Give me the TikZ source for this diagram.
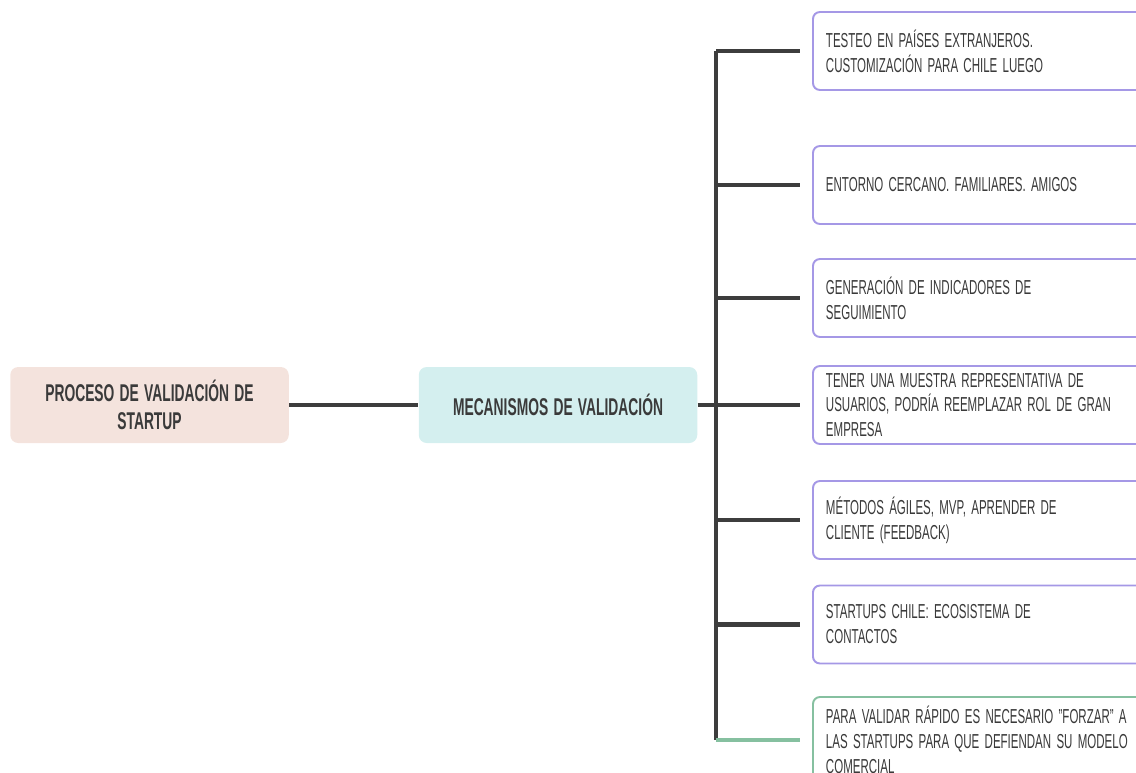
\documentclass[tikz,border=0pt]{standalone}
\usepackage{fontspec}
\setmainfont[FakeStretch=0.57,BoldFeatures={FakeStretch=0.57}]{Liberation Sans}
\usetikzlibrary{positioning}
\definecolor{rootfill}{HTML}{F4E3DD}
\definecolor{mechfill}{HTML}{D4EFEF}
\definecolor{leafline}{HTML}{A598E6}
\definecolor{lastline}{HTML}{86C0A0}
\definecolor{branch}{HTML}{3D3D3D}
\definecolor{inktext}{HTML}{3A3A3A}
\newcommand{\topicfont}{\fontsize{13.8}{15.9}\selectfont\bfseries\spaceskip=3pt plus 1pt\relax}
\newcommand{\leaffont}{\fontsize{11.5}{14.2}\selectfont\spaceskip=3pt plus 1pt\relax}
\begin{document}
\begin{tikzpicture}[
	topic/.style={rounded corners=0.16cm, minimum width=5.57cm, minimum height=1.52cm, align=center, text=inktext, font=\topicfont},
	leaf/.style={draw=leafline, line width=1.1pt, fill=white, rounded corners=0.14cm, anchor=west, text width=6.24cm, inner xsep=0.26cm, minimum height=1.56cm, align=flush left, text=inktext, font=\leaffont},
	link/.style={draw=branch, line width=2.3pt}
	]
	\clip (0,0) rectangle (22.72,-15.44);
	
	\node[topic, fill=rootfill] (root) at (2.99,-8.10) {PROCESO DE VALIDACIÓN DE\\STARTUP};
	\node[topic, fill=mechfill] (mech) at (11.16,-8.10) {MECANISMOS DE VALIDACIÓN};
	
	\node[leaf] (leaf1) at (16.24,-1.02) {TESTEO EN PAÍSES EXTRANJEROS.\\CUSTOMIZACIÓN PARA CHILE LUEGO};
	\node[leaf] (leaf2) at (16.24,-3.70) {ENTORNO CERCANO. FAMILIARES. AMIGOS};
	\node[leaf] (leaf3) at (16.24,-5.96) {GENERACIÓN DE INDICADORES DE\\SEGUIMIENTO};
	\node[leaf] (leaf4) at (16.24,-8.10) {TENER UNA MUESTRA REPRESENTATIVA DE\\USUARIOS, PODRÍA REEMPLAZAR ROL DE GRAN\\EMPRESA};
	\node[leaf] (leaf5) at (16.24,-10.40) {MÉTODOS ÁGILES, MVP, APRENDER DE\\CLIENTE (FEEDBACK)};
	\node[leaf] (leaf6) at (16.24,-12.49) {STARTUPS CHILE: ECOSISTEMA DE\\CONTACTOS};
	\node[leaf, draw=lastline, minimum height=1.72cm] (leaf7) at (16.24,-14.80) {PARA VALIDAR RÁPIDO ES NECESARIO "FORZAR" A\\LAS STARTUPS PARA QUE DEFIENDAN SU MODELO\\COMERCIAL};
	
	\coordinate (trunk) at (14.32,-8.10);
	
	\draw[link] (root) -- (mech);
	\draw[link, shorten >=0.24cm] (mech) -- (leaf4);
	\draw[link] (trunk |- leaf1) -- (trunk |- leaf7);
	\foreach \i in {1,2,3,5,6}
		\draw[link, shorten >=0.24cm] (trunk |- leaf\i) -- (leaf\i);
	\draw[link, draw=lastline, shorten >=0.24cm] (trunk |- leaf7) -- (leaf7);
	
\end{tikzpicture}
\end{document}
